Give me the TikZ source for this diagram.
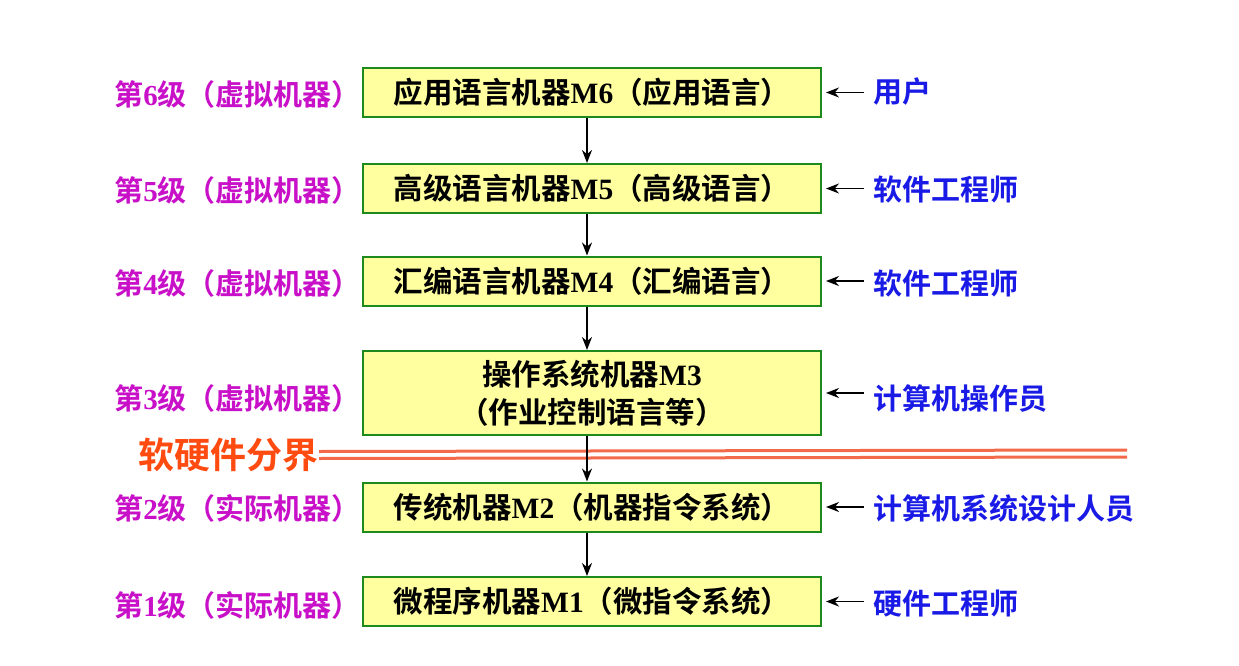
\documentclass[tikz,border=0pt]{standalone}
\usepackage{fontspec}
\setmainfont{Liberation Serif}
\newfontfamily\cjk{Noto Sans CJK SC}[BoldFont={* Bold}]
\usetikzlibrary{arrows.meta,calc}
\definecolor{boxfill}{HTML}{FFFFA0}
\definecolor{boxline}{HTML}{1E8A1E}
\definecolor{lvlcol}{HTML}{C810C8}
\definecolor{rolecol}{HTML}{1A1AE6}
\definecolor{bndcol}{HTML}{FF4A10}
\definecolor{bndline}{HTML}{F26A4A}
\newcommand\ck[1]{{\cjk\bfseries #1}}
\begin{document}
\begin{tikzpicture}[x=1pt,y=-1pt,
  machine/.style={draw=boxline,fill=boxfill,line width=2pt,minimum width=458pt,minimum height=49pt,inner sep=0pt,align=center,font=\bfseries\fontsize{29.5}{38}\selectfont},
  lvl/.style={anchor=east,inner sep=0pt,text=lvlcol,font=\bfseries\fontsize{29}{32}\selectfont},
  role/.style={anchor=west,inner sep=0pt,text=rolecol,font=\bfseries\fontsize{29}{32}\selectfont},
  arr/.style={line width=1.8pt,-{Stealth[length=13pt,width=10pt]}},
  dbl/.style={bndline,line width=3pt}]
\useasboundingbox (0,0) rectangle (1239,666);
% boxes
\node[machine] (b6) at (592,92.5) {\ck{应用语言机器}M6\ck{（应用语言）}};
\node[machine] (b5) at (592,188.5) {\ck{高级语言机器}M5\ck{（高级语言）}};
\node[machine] (b4) at (592,281) {\ck{汇编语言机器}M4\ck{（汇编语言）}};
\node[machine,minimum height=84pt] (b3) at (592,393) {\ck{操作系统机器}M3\\\ck{（作业控制语言等）}};
\node[machine] (b2) at (592,507) {\ck{传统机器}M2\ck{（机器指令系统）}};
\node[machine] (b1) at (592,601.5) {\ck{微程序机器}M1\ck{（微指令系统）}};
% left labels
\node[lvl] (l6) at (361,94) {\ck{第}6\ck{级（虚拟机器）}};
\node[lvl] (l5) at (361,190) {\ck{第}5\ck{级（虚拟机器）}};
\node[lvl] (l4) at (361,283) {\ck{第}4\ck{级（虚拟机器）}};
\node[lvl] (l3) at (361,398) {\ck{第}3\ck{级（虚拟机器）}};
\node[lvl] (l2) at (361,508) {\ck{第}2\ck{级（实际机器）}};
\node[lvl] (l1) at (361,605) {\ck{第}1\ck{级（实际机器）}};
% right labels
\node[role] (r6) at (873,92) {\ck{用户}};
\node[role] (r5) at (873,189) {\ck{软件工程师}};
\node[role] (r4) at (873,283) {\ck{软件工程师}};
\node[role] (r3) at (873,398) {\ck{计算机操作员}};
\node[role] (r2) at (873,508) {\ck{计算机系统设计人员}};
\node[role] (r1) at (873,604) {\ck{硬件工程师}};
% boundary
\node[anchor=east,inner sep=0pt,text=bndcol,font=\fontsize{36}{40}\selectfont] (bnd) at (319,455) {\ck{软硬件分界}};
\coordinate (bndend) at (1127,453.5);
\draw[dbl] ([yshift=-3.5pt]bnd.east) -- ([yshift=-3.5pt]bndend);
\draw[dbl] ([yshift=3.5pt]bnd.east) -- ([yshift=3.5pt]bndend);
% vertical arrows
\foreach \a/\b in {b6/b5,b5/b4,b4/b3,b3/b2,b2/b1}
  \draw[arr] ([xshift=-5pt]\a.south) -- ([xshift=-5pt]\b.north);
% side arrows
\foreach \r/\b in {r6/b6,r5/b5,r4/b4,r3/b3,r2/b2,r1/b1}
  \draw[arr] ([xshift=-9pt]\r.west |- \b.east) -- ([xshift=4pt]\b.east);
\end{tikzpicture}
\end{document}
